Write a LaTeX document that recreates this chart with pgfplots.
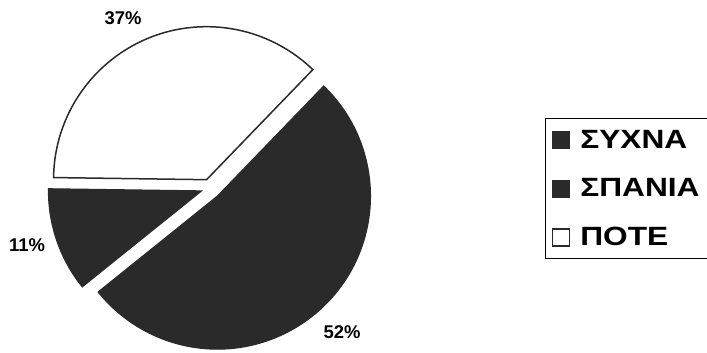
\documentclass[border=0pt]{standalone}
\usepackage{pgfplots}
\usepackage{pgfplotstable}
\pgfplotsset{compat=1.18}
\usetikzlibrary{calc}
\usepackage{fontspec}
\setmainfont{Liberation Sans}
\newfontfamily\legfont[FakeStretch=1.2]{Liberation Sans}
\definecolor{pie}{HTML}{2A2A2A}

\pgfplotstableread{
label value
SYXNA 52
SPANIA 11
POTE 37
}\piedata
\pgfplotstablegetelem{0}{value}\of\piedata\let\vA\pgfplotsretval
\pgfplotstablegetelem{1}{value}\of\piedata\let\vB\pgfplotsretval
\pgfplotstablegetelem{2}{value}\of\piedata\let\vC\pgfplotsretval
\pgfmathsetmacro\aA{46}
\pgfmathsetmacro\aB{\aA-3.6*\vA}
\pgfmathsetmacro\aC{\aB-3.6*\vB}
\pgfmathsetmacro\aD{\aC-3.6*\vC}

\newcommand{\slice}[4]{%
  \filldraw[#4] ($(axis cs:210,165)+({(#1+#2)/2}:#3bp)$) -- +(#1:153bp)
     arc[start angle=#1, end angle=#2, radius=153bp] -- cycle;}

\begin{document}
\begin{tikzpicture}
\begin{axis}[
  width=707bp, height=353bp, scale only axis,
  xmin=0, xmax=707, ymin=0, ymax=353,
  hide axis, clip=false,
  legend image code/.code={\path[draw=none,fill=none] (0bp,0bp) -- (26bp,0bp); \draw[#1] (0bp,-8.5bp) rectangle (17bp,8.5bp);},
  legend style={at={(axis cs:545,235)}, anchor=north west, draw=black, line width=1.2bp,
    font=\legfont\bfseries\fontsize{26.5}{30}\selectfont, cells={anchor=west}, row sep=25bp,
    inner xsep=6bp, inner ysep=9.5bp},
]
\slice{\aA}{\aB}{11}{fill=pie, draw=pie, line width=1.2bp}
\slice{\aB}{\aC}{9}{fill=pie, draw=pie, line width=1.2bp}
\slice{\aC}{\aD}{9}{fill=white, draw=pie, line width=1.5bp}
\addlegendimage{fill=pie, draw=pie, line width=1bp}
\addlegendentry{ΣΥΧΝΑ}
\addlegendimage{fill=pie, draw=pie, line width=1bp}
\addlegendentry{ΣΠΑΝΙΑ}
\addlegendimage{fill=white, draw=pie, line width=1.4bp}
\addlegendentry{ΠΟΤΕ}
\node[font=\bfseries\fontsize{18.5}{22}\selectfont] at (axis cs:123,335) {37\%};
\node[font=\bfseries\fontsize{18.5}{22}\selectfont] at (axis cs:27,108) {11\%};
\node[font=\bfseries\fontsize{18.5}{22}\selectfont] at (axis cs:342,21) {52\%};
\end{axis}
\pgfresetboundingbox
\useasboundingbox (current axis.south west) rectangle (current axis.north east);
\end{tikzpicture}
\end{document}
